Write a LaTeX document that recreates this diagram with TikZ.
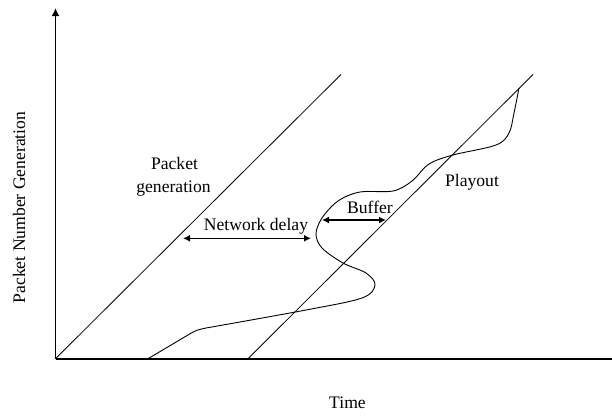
\documentclass[tikz,border=0pt]{standalone}
\usepackage{fontspec}
\setmainfont{Liberation Serif}
\usetikzlibrary{arrows.meta}
\begin{document}
\begin{tikzpicture}[x=1pt,y=-1pt,
  lbl/.style={inner sep=0pt,anchor=base,font=\fontsize{17.6}{20}\selectfont},
  axis/.style={line width=1.8pt},
  diag/.style={line width=0.8pt},
  curvestyle/.style={line width=0.9pt},
  dimarrow/.style={line width=1.4pt,{Latex[length=7pt,width=7pt]}-{Latex[length=7pt,width=7pt]}}]
\useasboundingbox (0,0) rectangle (612,416);
% axes
\coordinate (O) at (55.5,358.7);
\coordinate (ytop) at (55.5,8);
\coordinate (xend) at (612,358.7);
\draw[axis,-{Latex[length=8pt,width=8pt]}] (O) -- (ytop);
\draw[axis] (O) -- (xend);
% packet generation and playout lines
\coordinate (gtop) at (341,74.5);
\coordinate (pstart) at (248,358.7);
\coordinate (ptop) at (533,74.5);
\draw[diag] (O) -- (gtop);
\draw[diag] (pstart) -- (ptop);
% arrival curve
\coordinate (c0) at (148,358.7);
\draw[curvestyle] (c0) -- (191,333.2) .. controls (196,330.3) and (199,329.4) .. (206,328)
 -- plot[smooth,tension=0.55] coordinates {
 (206,328) (306,310) (362,298) (375,285) (366,273) (343,263)
 (322,248) (316,234) (322,218) (338,201) (360,192) (393,191) (412,181)
 (429,164) (453,155) (496,145) (509,133) (514,113) (519,88)};
% dimension arrows
\coordinate (nd1) at (183,238.3);
\coordinate (nd2) at (311,238.3);
\draw[dimarrow] (nd1) -- (nd2);
\coordinate (bf1) at (322,220);
\coordinate (bf2) at (386,220);
\draw[dimarrow] (bf1) -- (bf2);
% labels
\node[lbl] (pk1) at (174.5,169) {Packet};
\node[lbl] (pk2) at (173.5,192) {generation};
\node[lbl] (nd) at (256,230) {Network delay};
\node[lbl] (bf) at (370,213) {Buffer};
\node[lbl] (pl) at (472,186) {Playout};
\node[lbl] (tm) at (347.5,408) {Time};
\node[lbl,rotate=90] (yl) at (25,207.5) {Packet Number Generation};
\end{tikzpicture}
\end{document}
